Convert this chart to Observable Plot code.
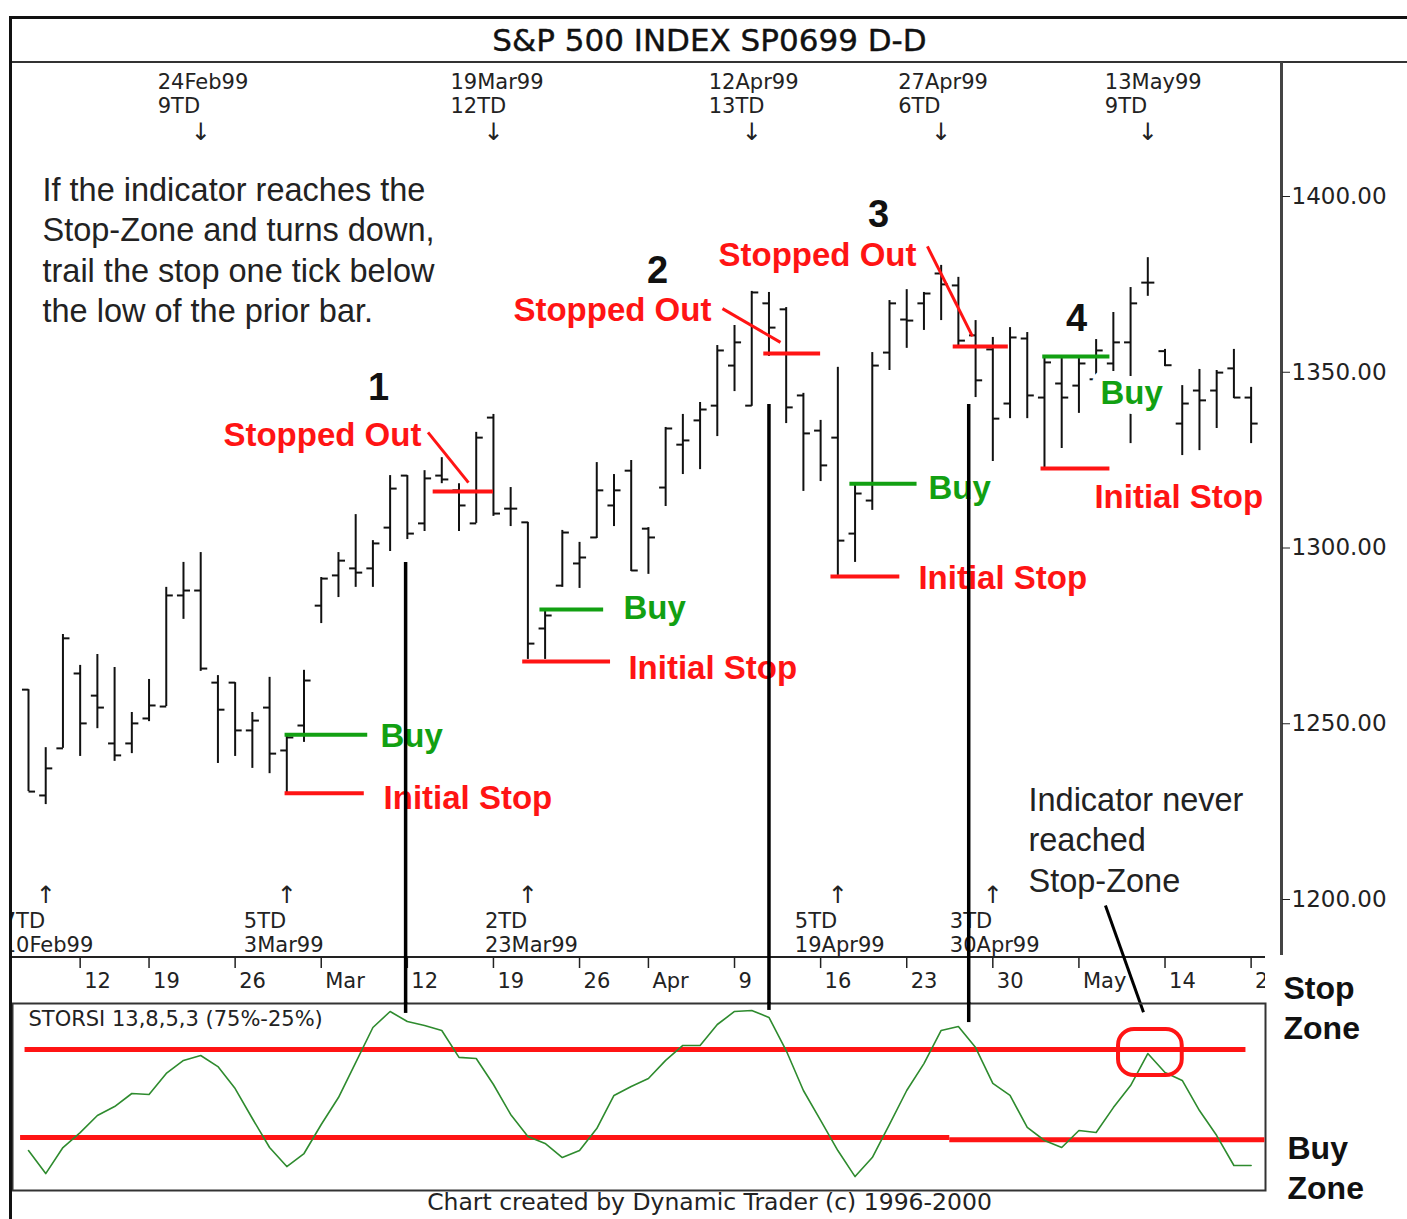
<!DOCTYPE html>
<html>
<head>
<meta charset="utf-8">
<script src="https://cdn.jsdelivr.net/npm/d3@7"></script>
<script src="https://cdn.jsdelivr.net/npm/@observablehq/plot@0.6"></script>
<style>
html,body{margin:0;padding:0;background:#fff;}
#fig{position:relative;width:1407px;height:1219px;overflow:hidden;background:#fff;}
.abs{position:absolute;}
.line{position:absolute;background:#111;}
#title{position:absolute;left:12px;top:19px;width:1395px;height:42px;line-height:42px;text-align:center;font-family:"DejaVu Sans",sans-serif;font-size:31px;color:#111;-webkit-text-stroke:0.4px #111;}
#footer{position:absolute;left:12px;top:1189px;width:1395px;text-align:center;font-family:"DejaVu Sans",sans-serif;font-size:23.5px;color:#222;line-height:27px;}
</style>
</head>
<body>
<div id="fig">
  <div id="title">S&amp;P 500 INDEX SP0699 D-D</div>
  <div class="line" style="left:9px;top:16px;width:1398px;height:3px;"></div>
  <div class="line" style="left:9px;top:61px;width:1398px;height:2px;background:#333"></div>
  <div class="line" style="left:1280px;top:62px;width:3px;height:893px;background:#444"></div>
  <div class="line" style="left:12px;top:956px;width:1253px;height:2px;background:#222"></div>
  <div id="price" class="abs" style="left:0;top:62px;"></div>
  <div id="band" class="abs" style="left:0;top:955px;"></div>
  <div id="osc" class="abs" style="left:0;top:1002px;"></div>
  <div id="footer">Chart created by Dynamic Trader (c) 1996-2000</div>
  <div class="abs" style="left:0;top:0;width:9px;height:1219px;background:#fff"></div>
  <div class="line" style="left:9px;top:16px;width:3px;height:1203px;"></div>
</div>
<script>
// ---------------- DATA ----------------
const dates = ["1999-02-09","1999-02-10","1999-02-11","1999-02-12","1999-02-16","1999-02-17","1999-02-18","1999-02-19",
  "1999-02-22","1999-02-23","1999-02-24","1999-02-25","1999-02-26","1999-03-01","1999-03-02","1999-03-03","1999-03-04","1999-03-05",
  "1999-03-08","1999-03-09","1999-03-10","1999-03-11","1999-03-12","1999-03-15","1999-03-16","1999-03-17","1999-03-18","1999-03-19",
  "1999-03-22","1999-03-23","1999-03-24","1999-03-25","1999-03-26","1999-03-29","1999-03-30","1999-03-31","1999-04-01",
  "1999-04-05","1999-04-06","1999-04-07","1999-04-08","1999-04-09","1999-04-12","1999-04-13","1999-04-14","1999-04-15","1999-04-16",
  "1999-04-19","1999-04-20","1999-04-21","1999-04-22","1999-04-23","1999-04-26","1999-04-27","1999-04-28","1999-04-29","1999-04-30",
  "1999-05-03","1999-05-04","1999-05-05","1999-05-06","1999-05-07","1999-05-10","1999-05-11","1999-05-12","1999-05-13","1999-05-14",
  "1999-05-17","1999-05-18","1999-05-19","1999-05-20","1999-05-21"];
const open  = [1259.7,1229.6,1243.0,1264.3,1258.0,1244.4,1244.4,1251.5,1254.9,1286.5,1287.9,1261.7,1261.7,1248.1,1254.6,1242.4,1249.5,1283.6,
  1292.2,1294.2,1294.2,1305.8,1320.6,1307.0,1320.6,1316.4,1307.0,1337.1,1311.2,1307.3,1277.1,1289.3,1295.6,1303.0,1312.1,1322.0,1305.5,
  1317.2,1329.4,1336.3,1340.5,1351.9,1340.5,1369.6,1367.9,1343.4,1333.4,1331.4,1304.1,1313.5,1355.6,1365.0,1369.6,1378.1,1374.7,1360.5,1356.5,
  1341.1,1359.6,1342.8,1346.8,1346.2,1348.0,1352.5,1358.5,1375.5,1356.0,1335.4,1344.8,1344.8,1351.1,1342.8];
const high  = [1259.7,1243.2,1275.4,1266.6,1269.7,1266.0,1253.2,1262.6,1288.8,1295.9,1298.7,1263.7,1261.7,1253.2,1263.2,1246.7,1265.2,1291.6,
  1298.7,1309.5,1302.1,1320.6,1320.6,1322.0,1325.7,1318.3,1332.9,1338.0,1317.2,1307.3,1282.2,1305.0,1301.6,1324.3,1320.9,1324.9,1305.8,
  1334.3,1338.0,1341.4,1357.6,1363.3,1373.0,1372.7,1368.4,1344.0,1336.3,1351.4,1318.3,1355.6,1370.4,1373.5,1372.7,1380.4,1377.0,1364.7,1359.9,
  1362.7,1361.3,1354.2,1353.9,1353.9,1359.3,1367.0,1374.1,1382.6,1356.5,1346.2,1350.8,1350.5,1356.5,1345.7];
const low   = [1230.7,1227.0,1243.0,1240.7,1248.6,1239.3,1241.5,1250.6,1254.9,1279.7,1264.9,1238.7,1240.7,1237.3,1235.8,1230.2,1244.7,1278.5,
  1285.9,1288.8,1288.8,1299.0,1302.4,1304.7,1318.3,1304.7,1307.0,1309.0,1306.1,1268.3,1268.3,1288.8,1288.5,1302.7,1306.1,1293.3,1292.5,
  1311.8,1320.9,1322.3,1331.7,1344.5,1340.3,1354.5,1335.4,1316.1,1318.9,1292.2,1295.9,1310.7,1350.5,1356.8,1361.9,1364.7,1356.8,1342.8,1324.6,
  1336.8,1336.8,1322.9,1328.3,1338.3,1345.0,1347.0,1329.7,1371.6,1351.6,1326.3,1327.7,1334.0,1342.5,1329.7];
const close = [1230.7,1237.3,1274.3,1250.1,1254.6,1241.0,1250.1,1255.2,1286.5,1287.9,1265.7,1254.0,1248.1,1250.9,1241.5,1246.1,1262.3,1291.3,
  1296.4,1293.0,1301.3,1316.9,1304.1,1319.8,1319.5,1312.1,1331.4,1309.8,1311.2,1272.8,1280.8,1304.4,1297.3,1316.4,1316.4,1293.6,1303.0,
  1334.0,1330.6,1339.4,1356.2,1358.5,1372.7,1362.7,1340.0,1332.6,1323.5,1302.1,1315.5,1351.9,1369.6,1364.7,1372.4,1375.0,1359.0,1347.7,1336.8,
  1359.9,1343.4,1352.8,1342.8,1352.5,1356.2,1358.5,1369.6,1375.5,1352.0,1341.1,1342.0,1349.9,1342.8,1335.4];
// STORSI 13,8,5,3 oscillator (%)
const storsi = [17.6,4.5,19.3,27.8,37.5,42.6,50.0,49.4,61.4,68.8,71.6,65.3,52.8,35.8,19.3,8.5,15.9,32.4,47.7,67.6,
  87.5,96.6,90.9,88.6,85.8,70.5,69.9,55.1,38.1,25.6,21.6,13.6,17.6,30.1,48.9,54.0,58.5,68.8,77.3,77.3,
  89.2,96.6,97.2,93.2,74.4,51.7,34.7,17.6,2.8,13.6,32.4,51.7,67.0,85.8,88.1,76.1,55.7,48.9,30.7,23.3,
  19.3,29.0,27.8,42.0,54.5,72.7,61.9,57.4,40.3,26.1,9.1,9.1];

const priceTicks = [1200, 1250, 1300, 1350, 1400];
const weekTickIdx = [3, 7, 12, 17, 22, 27, 32, 36, 41, 46, 51, 56, 61, 66, 71];
const weekTickLabel = ["12","19","26","Mar","12","19","26","Apr","9","16","23","30","May","14","21"];

// cycle highs (top) and lows (bottom)
const highIdx = [10, 27, 42, 53, 65];
const highDate = ["24Feb99","19Mar99","12Apr99","27Apr99","13May99"];
const highTD = ["9TD","12TD","13TD","6TD","9TD"];
const lowIdx = [1, 15, 29, 47, 56];
const lowDate = ["10Feb99","3Mar99","23Mar99","19Apr99","30Apr99"];
const lowTD = ["7TD","5TD","2TD","5TD","3TD"];

// trade levels (bar index span, price)
const buyLevels = [{i1:14.9,i2:19.7,p:1246.9},{i1:29.7,i2:33.4,p:1282.5},{i1:47.7,i2:51.6,p:1318.3},{i1:58.9,i2:62.8,p:1354.5}];
const initialStops = [{i1:14.9,i2:19.5,p:1230.2},{i1:28.7,i2:33.8,p:1267.7},{i1:46.6,i2:50.6,p:1291.9},{i1:58.8,i2:62.8,p:1322.6}];
const trailStops = [{i1:23.5,i2:27.0,p:1316.1},{i1:42.7,i2:46.0,p:1355.3},{i1:53.7,i2:56.9,p:1357.3}];

// annotation labels
const redLabels = [
  {i:11.32,p:1332.0,t:"Stopped Out"},{i:28.16,p:1367.6,t:"Stopped Out"},{i:40.07,p:1383.2,t:"Stopped Out"},
  {i:20.62,p:1228.7,t:"Initial Stop"},{i:34.84,p:1265.7,t:"Initial Stop"},{i:51.68,p:1291.3,t:"Initial Stop"},{i:61.90,p:1314.4,t:"Initial Stop"}];
const greenLabels = [{i:20.44,p:1246.4,t:"Buy"},{i:34.55,p:1282.8,t:"Buy"},{i:52.26,p:1316.9,t:"Buy"},{i:62.25,p:1344.0,t:"Buy"}];
const tradeNumbers = [{i:20.33,p:1345.7,t:"1"},{i:36.53,p:1378.9,t:"2"},{i:49.36,p:1394.9,t:"3"},{i:60.86,p:1365.3,t:"4"}];
const redPointers = [{i1:23.2,p1:1332.9,i2:25.55,p2:1318.6},{i1:40.3,p1:1368.1,i2:43.67,p2:1358.5},{i1:52.2,p1:1385.8,i2:54.82,p2:1360.2}];
const notes = [
  {i:0.81,p:1385.2,t:"If the indicator reaches the\nStop-Zone and turns down,\ntrail the stop one tick below\nthe low of the prior bar."},
  {i:58.07,p:1217.4,t:"Indicator never\nreached\nStop-Zone"}];
const notePointer = [{i1:62.54,p1:1198.3,i2:64.75,p2:1167.9}];
// vertical connectors: bar index, price start, oscillator end
const connectors = [{i:21.9,price:1295.9,osc:95.5},{i:43.0,price:1340.8,osc:97.2},{i:54.6,price:1340.8,osc:90.3}];
// oscillator zones
const zoneLines = [{v:75,from:-0.2,to:70.7},{v:25,from:-0.46,to:53.5},{v:23.7,from:53.5,to:71.8}];
const circled = [{i1:63.3,i2:67.0,v1:60.2,v2:86.4}];

// ---------------- STYLE / SCALES ----------------
const RED = "#ff1414", GREEN = "#12a012", OSC = "#2e8b2e", INK = "#111";
const xScale = {type: "linear", domain: [0, 71], range: [28, 28 + 71 * 17.22], axis: null};
const priceY = {domain: [1200, 1400], range: [837, 134], axis: null};
const oscY = {domain: [0, 100], range: [179, 3], axis: null};
const PRICE_H = 893, OSC_H = 190;
// scale values at the panel edges (so the connectors meet the neighbouring panels)
const priceAtPanelBottom = d3.scaleLinear(priceY.domain, priceY.range).invert(PRICE_H);
const oscAtPanelTop = d3.scaleLinear(oscY.domain, oscY.range).invert(0);

const bars = dates.map((d, i) => ({i, date: d, o: open[i], h: high[i], l: low[i], c: close[i]}));
const svgStyle = {background: "transparent", overflow: "visible", fontFamily: "DejaVu Sans", fontSize: "23px", color: "#222"};
const boldFont = "Liberation Sans";
const halo = {stroke: "white", strokeWidth: 20, strokeLinejoin: "round", paintOrder: "stroke"};

// ---------------- PRICE PANEL ----------------
const pricePlot = Plot.plot({
  width: 1407, height: PRICE_H,
  marginLeft: 12, marginRight: 126, marginTop: 0, marginBottom: 0,
  style: svgStyle,
  x: xScale,
  y: priceY,
  marks: [
    Plot.axisY({ticks: priceTicks, anchor: "right", tickSize: 8, tickPadding: 2, tickFormat: d => d.toFixed(2), fontSize: 23, fontFamily: "DejaVu Sans"}),
    // OHLC bars
    Plot.ruleX(bars, {x: "i", y1: "l", y2: "h", stroke: INK, strokeWidth: 2}),
    Plot.link(bars, {x1: d => d.i - 0.38, x2: "i", y1: "o", y2: "o", stroke: INK, strokeWidth: 2}),
    Plot.link(bars, {x1: "i", x2: d => d.i + 0.38, y1: "c", y2: "c", stroke: INK, strokeWidth: 2}),
    // trade levels
    Plot.ruleY(buyLevels, {y: "p", x1: "i1", x2: "i2", stroke: GREEN, strokeWidth: 4}),
    Plot.ruleY(initialStops, {y: "p", x1: "i1", x2: "i2", stroke: RED, strokeWidth: 4}),
    Plot.ruleY(trailStops, {y: "p", x1: "i1", x2: "i2", stroke: RED, strokeWidth: 4}),
    // labels
    Plot.text(redLabels, {x: "i", y: "p", text: "t", textAnchor: "start", lineAnchor: "middle", fill: RED, fontSize: 33, fontWeight: "bold", fontFamily: boldFont, ...halo}),
    Plot.text(greenLabels, {x: "i", y: "p", text: "t", textAnchor: "start", lineAnchor: "middle", fill: GREEN, fontSize: 33, fontWeight: "bold", fontFamily: boldFont, ...halo}),
    Plot.link(redPointers, {x1: "i1", y1: "p1", x2: "i2", y2: "p2", stroke: RED, strokeWidth: 3}),
    Plot.text(tradeNumbers, {x: "i", y: "p", text: "t", textAnchor: "middle", lineAnchor: "middle", fill: INK, fontSize: 38, fontWeight: "bold", fontFamily: boldFont}),
    // cycle annotations
    Plot.text(highIdx, {x: d => d, text: (d, i) => highDate[i], frameAnchor: "top", dy: 20, dx: -43, textAnchor: "start", lineAnchor: "middle", fontSize: 21, fill: "#222"}),
    Plot.text(highIdx, {x: d => d, text: (d, i) => highTD[i], frameAnchor: "top", dy: 44, dx: -43, textAnchor: "start", lineAnchor: "middle", fontSize: 21, fill: "#222"}),
    Plot.text(highIdx, {x: d => d, text: () => "\u2193", frameAnchor: "top", dy: 70, textAnchor: "middle", lineAnchor: "middle", fontSize: 24, fill: "#222"}),
    Plot.text(lowIdx, {x: d => d, text: () => "\u2191", frameAnchor: "bottom", dy: -60, textAnchor: "middle", lineAnchor: "middle", fontSize: 24, fill: "#222"}),
    Plot.text(lowIdx, {x: d => d, text: (d, i) => lowTD[i], frameAnchor: "bottom", dy: -34, dx: -43, textAnchor: "start", lineAnchor: "middle", fontSize: 21, fill: "#222"}),
    Plot.text(lowIdx, {x: d => d, text: (d, i) => lowDate[i], frameAnchor: "bottom", dy: -10, dx: -43, textAnchor: "start", lineAnchor: "middle", fontSize: 21, fill: "#222"}),
    // notes
    Plot.text(notes, {x: "i", y: "p", text: "t", textAnchor: "start", lineAnchor: "middle", lineHeight: 1.25, fontSize: 32.5, fontFamily: "Liberation Sans", fill: "#222"}),
    // connectors down to the bottom of the price panel
    Plot.ruleX(connectors, {x: "i", y1: "price", y2: () => priceAtPanelBottom, stroke: "#000", strokeWidth: 3.5}),
    Plot.link(notePointer, {x1: "i1", y1: "p1", x2: "i2", y2: "p2", stroke: "#000", strokeWidth: 3})
  ]
});
document.getElementById("price").appendChild(pricePlot);

// ---------------- DATE BAND ----------------
const bandPlot = Plot.plot({
  width: 1407, height: 48,
  marginLeft: 12, marginRight: 142, marginTop: 2, marginBottom: 0,
  style: svgStyle,
  x: xScale,
  marks: [
    Plot.ruleX(weekTickIdx, {x: d => d, insetBottom: 35, stroke: "#222", strokeWidth: 1.5}),
    Plot.text(weekTickIdx, {x: d => d, text: (d, i) => weekTickLabel[i], frameAnchor: "middle", dx: 4, dy: 1, textAnchor: "start", lineAnchor: "middle", fontSize: 21, fill: "#222", clip: true}),
    Plot.ruleX(connectors, {x: "i", insetTop: -2, stroke: "#000", strokeWidth: 3.5})
  ]
});
document.getElementById("band").appendChild(bandPlot);

// ---------------- OSCILLATOR ----------------
const oscData = storsi.map((v, i) => ({i, v}));
const oscPlot = Plot.plot({
  width: 1407, height: OSC_H,
  marginLeft: 12, marginRight: 142, marginTop: 1, marginBottom: 2,
  style: svgStyle,
  x: xScale,
  y: oscY,
  marks: [
    Plot.frame({stroke: "#333", strokeWidth: 2}),
    Plot.ruleY(zoneLines, {y: "v", x1: "from", x2: "to", stroke: RED, strokeWidth: 5}),
    Plot.line(oscData, {x: "i", y: "v", stroke: OSC, strokeWidth: 1.6}),
    Plot.rect(circled, {x1: "i1", x2: "i2", y1: "v1", y2: "v2", rx: 16, fill: "none", stroke: RED, strokeWidth: 4}),
    Plot.ruleX(connectors, {x: "i", y1: () => oscAtPanelTop, y2: "osc", stroke: "#000", strokeWidth: 3.5}),
    Plot.text(["STORSI 13,8,5,3 (75%-25%)"], {frameAnchor: "top-left", dx: 16, dy: 16, textAnchor: "start", lineAnchor: "middle", fontSize: 21, fill: "#222"}),
    Plot.text(["Stop\nZone"], {frameAnchor: "top-right", dx: 18, dy: 3, textAnchor: "start", lineAnchor: "middle", lineHeight: 1.25, fontSize: 32, fontWeight: "bold", fontFamily: boldFont, fill: INK}),
    Plot.text(["Buy\nZone"], {frameAnchor: "bottom-right", dx: 22, dy: -24, textAnchor: "start", lineAnchor: "middle", lineHeight: 1.25, fontSize: 32, fontWeight: "bold", fontFamily: boldFont, fill: INK})
  ]
});
document.getElementById("osc").appendChild(oscPlot);
</script>
</body>
</html>
